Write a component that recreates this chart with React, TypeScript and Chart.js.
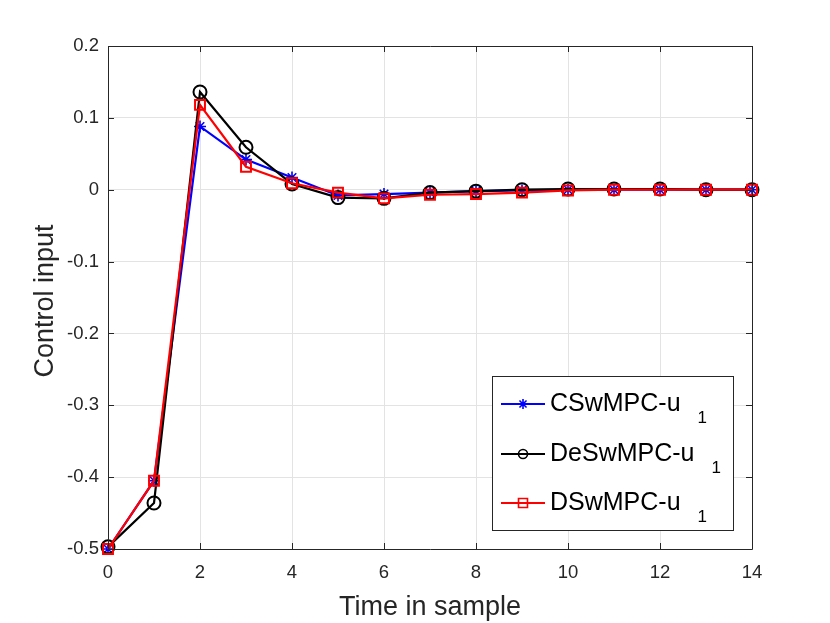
import React, { useEffect, useRef } from 'react';
import { Chart, registerables } from 'chart.js';

Chart.register(...registerables);

const timeSteps = [0, 1, 2, 3, 4, 5, 6, 7, 8, 9, 10, 11, 12, 13, 14];
const cswmpcU1 = [-0.5, -0.405, 0.088, 0.042, 0.017, -0.008, -0.006, -0.004, -0.002, -0.001, 0.0, 0.0, 0.0, 0.0, 0.0];
const deswmpcU1 = [-0.497, -0.436, 0.136, 0.059, 0.008, -0.011, -0.012, -0.004, -0.002, 0.0, 0.001, 0.001, 0.001, 0.0, 0.0];
const dswmpcU1 = [-0.5, -0.405, 0.118, 0.032, 0.009, -0.004, -0.012, -0.007, -0.006, -0.004, -0.001, 0.0, 0.0, 0.0, 0.0];

const seriesNames = ['CSwMPC-u', 'DeSwMPC-u', 'DSwMPC-u'];
const seriesColors = ['#0000ff', '#000000', '#ff0000'];
const subscript = '1';
const xTitle = 'Time in sample';
const yTitle = 'Control input';

const FONT = "'Liberation Sans', Arial, Helvetica, sans-serif";
const AXIS_COLOR = '#262626';

function toPoints(ys: number[]) {
  return timeSteps.map((t, i) => ({ x: t, y: ys[i] }));
}

const decorPlugin = {
  id: 'decor',
  afterDatasetsDraw(chart: any) {
    const ctx = chart.ctx;
    const { left, right, top, bottom } = chart.chartArea;
    const xs = chart.scales.x;
    const ys = chart.scales.y;
    ctx.save();
    ctx.strokeStyle = AXIS_COLOR;
    ctx.lineWidth = 1;
    ctx.beginPath();
    ctx.rect(Math.round(left) + 0.5, Math.round(top) + 0.5, Math.round(right - left), Math.round(bottom - top));
    ctx.stroke();
    const tl = 6;
    ctx.beginPath();
    xs.ticks.forEach((t: any) => {
      const px = Math.round(xs.getPixelForValue(t.value)) + 0.5;
      ctx.moveTo(px, bottom);
      ctx.lineTo(px, bottom - tl);
      ctx.moveTo(px, top);
      ctx.lineTo(px, top + tl);
    });
    ys.ticks.forEach((t: any) => {
      const py = Math.round(ys.getPixelForValue(t.value)) + 0.5;
      ctx.moveTo(left, py);
      ctx.lineTo(left + tl, py);
      ctx.moveTo(right, py);
      ctx.lineTo(right - tl, py);
    });
    ctx.stroke();
    ctx.restore();
  },
  afterDraw(chart: any) {
    const ctx = chart.ctx;
    const { left, right } = chart.chartArea;
    ctx.save();
    // axis titles
    ctx.fillStyle = AXIS_COLOR;
    ctx.font = `27px ${FONT}`;
    ctx.textAlign = 'center';
    ctx.textBaseline = 'alphabetic';
    ctx.fillText(xTitle, (left + right) / 2, 615);
    ctx.save();
    ctx.translate(53, 301);
    ctx.rotate(-Math.PI / 2);
    ctx.fillText(yTitle, 0, 0);
    ctx.restore();

    // legend
    const bx = 492, by = 376, bw = 241, bh = 154;
    ctx.fillStyle = '#ffffff';
    ctx.fillRect(bx, by, bw, bh);
    ctx.strokeStyle = AXIS_COLOR;
    ctx.lineWidth = 1;
    ctx.strokeRect(bx + 0.5, by + 0.5, bw, bh);
    const rows = [404, 454, 503];
    rows.forEach((ry, i) => {
      const col = seriesColors[i];
      ctx.strokeStyle = col;
      ctx.lineWidth = 2.2;
      ctx.beginPath();
      ctx.moveTo(501, ry);
      ctx.lineTo(545, ry);
      ctx.stroke();
      const mx = 523;
      ctx.lineWidth = 1.6;
      ctx.beginPath();
      if (i === 0) {
        const r = 5;
        for (let k = 0; k < 4; k++) {
          const a = (k * Math.PI) / 4;
          ctx.moveTo(mx - r * Math.cos(a), ry - r * Math.sin(a));
          ctx.lineTo(mx + r * Math.cos(a), ry + r * Math.sin(a));
        }
      } else if (i === 1) {
        ctx.arc(mx, ry, 4.5, 0, Math.PI * 2);
      } else {
        ctx.rect(mx - 4.5, ry - 4.5, 9, 9);
      }
      ctx.stroke();
      ctx.fillStyle = '#000000';
      ctx.textAlign = 'left';
      ctx.font = `25px ${FONT}`;
      ctx.fillText(seriesNames[i], 550, ry + 7);
      const w = ctx.measureText(seriesNames[i]).width;
      ctx.font = `17px ${FONT}`;
      ctx.fillText(subscript, 550 + w + 17, ry + 19);
    });
    ctx.restore();
  },
};

export default function App() {
  const ref = useRef<HTMLCanvasElement>(null);
  useEffect(() => {
    document.body.style.margin = '0';
    const canvas = ref.current;
    if (!canvas) return;
    const common = { showLine: true, borderWidth: 2.2, clip: false as any };
    const chart = new Chart(canvas, {
      type: 'scatter',
      data: {
        datasets: [
          {
            ...common,
            label: seriesNames[0],
            data: toPoints(cswmpcU1),
            borderColor: seriesColors[0],
            backgroundColor: seriesColors[0],
            pointStyle: 'star',
            pointRadius: 6,
            pointBorderWidth: 1.6,
            order: 3,
          },
          {
            ...common,
            label: seriesNames[1],
            data: toPoints(deswmpcU1),
            borderColor: seriesColors[1],
            backgroundColor: 'rgba(0,0,0,0)',
            pointStyle: 'circle',
            pointRadius: 6.5,
            pointBorderWidth: 2,
            order: 2,
          },
          {
            ...common,
            label: seriesNames[2],
            data: toPoints(dswmpcU1),
            borderColor: seriesColors[2],
            backgroundColor: 'rgba(0,0,0,0)',
            pointStyle: 'rect',
            pointRadius: 7,
            pointBorderWidth: 2,
            order: 1,
          },
        ],
      },
      options: {
        animation: false,
        responsive: false,
        maintainAspectRatio: false,
        devicePixelRatio: 1,
        layout: { padding: { top: 46, right: 78, left: 0, bottom: 0 } },
        plugins: { legend: { display: false }, tooltip: { enabled: false } },
        scales: {
          x: {
            type: 'linear',
            min: 0,
            max: 14,
            afterFit: (s: any) => { s.height = 74; },
            border: { display: false },
            grid: { color: '#e3e3e3', lineWidth: 1, drawTicks: false },
            ticks: {
              stepSize: 2,
              padding: 13,
              color: AXIS_COLOR,
              font: { family: FONT, size: 18.5 },
              callback: (v: any) => String(Math.round(Number(v))),
            },
          },
          y: {
            type: 'linear',
            min: -0.5,
            max: 0.2,
            afterFit: (s: any) => { s.width = 108; },
            border: { display: false },
            grid: { color: '#e3e3e3', lineWidth: 1, drawTicks: false },
            ticks: {
              stepSize: 0.1,
              padding: 9,
              color: AXIS_COLOR,
              font: { family: FONT, size: 18.5 },
              callback: (v: any) => String(Number(Number(v).toFixed(1))),
            },
          },
        },
      },
      plugins: [decorPlugin],
    });
    return () => chart.destroy();
  }, []);
  return (
    <div style={{ position: 'absolute', left: 0, top: 0, width: 830, height: 623, background: '#ffffff' }}>
      <canvas ref={ref} width={830} height={623} style={{ width: 830, height: 623, display: 'block' }} />
    </div>
  );
}
